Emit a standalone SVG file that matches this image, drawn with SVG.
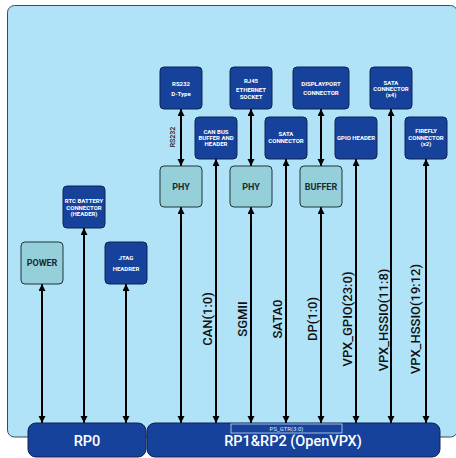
<svg xmlns="http://www.w3.org/2000/svg" width="456" height="458" viewBox="0 0 456 458">
<style>
.bg{fill:#b0e2f8;stroke:#3c4a52;stroke-width:1}
.db{fill:#17429c;stroke:#0d2450;stroke-width:1}
.lt{fill:#95d0da;stroke:#1f3438;stroke-width:1}
.rp{fill:#17429c;stroke:#0d2450;stroke-width:1}
.t{font-family:Roboto,"Liberation Sans",sans-serif;font-weight:700;font-size:6px;fill:#ffffff;text-anchor:middle}
.tl{font-family:Roboto,"Liberation Sans",sans-serif;font-weight:700;font-size:9px;fill:#1d2a2e;text-anchor:middle}
.sig{font-family:Roboto,"Liberation Sans",sans-serif;font-weight:500;font-size:13px;fill:#111111;text-anchor:middle}
.rpt{font-family:Roboto,"Liberation Sans",sans-serif;font-weight:500;font-size:14.5px;fill:#ffffff;text-anchor:middle}
.ln{stroke:#000000;stroke-width:2;fill:none;marker-start:url(#ah);marker-end:url(#ah)}
</style>
<defs>
<marker id="ah" markerUnits="userSpaceOnUse" markerWidth="8" markerHeight="8" refX="7" refY="3.5" orient="auto-start-reverse">
<path d="M0,0 L7,3.5 L0,7 z" fill="#000000"/>
</marker>
</defs>
<rect class="bg" x="7.5" y="5.5" width="450" height="431.5" rx="7"/>

<g id="connectors">
<line class="ln" x1="42" y1="284" x2="42" y2="423"/>
<line class="ln" x1="84" y1="228" x2="84" y2="423"/>
<line class="ln" x1="126" y1="284" x2="126" y2="423"/>
<line class="ln" x1="181" y1="207" x2="181" y2="423"/>
<line class="ln" x1="216" y1="159" x2="216" y2="423"/>
<line class="ln" x1="251" y1="207" x2="251" y2="423"/>
<line class="ln" x1="286" y1="159" x2="286" y2="423"/>
<line class="ln" x1="321" y1="207" x2="321" y2="423"/>
<line class="ln" x1="356" y1="159" x2="356" y2="423"/>
<line class="ln" x1="391" y1="109" x2="391" y2="423"/>
<line class="ln" x1="426" y1="159" x2="426" y2="423"/>
<line class="ln" x1="181" y1="109" x2="181" y2="166"/>
<line class="ln" x1="251" y1="109" x2="251" y2="166"/>
<line class="ln" x1="321" y1="109" x2="321" y2="166"/>
<text x="0" y="0" transform="translate(174.5,137) rotate(-90)" font-family="Roboto,'Liberation Sans',sans-serif" font-weight="500" font-size="7" fill="#222222" text-anchor="middle">RS232</text>
<text class="sig" transform="translate(212,319) rotate(-90)">CAN(1:0)</text>
<text class="sig" transform="translate(246.5,319) rotate(-90)">SGMII</text>
<text class="sig" transform="translate(281.5,319) rotate(-90)">SATA0</text>
<text class="sig" transform="translate(316.5,319) rotate(-90)">DP(1:0)</text>
<text class="sig" transform="translate(351.5,319) rotate(-90)">VPX_GPIO(23:0)</text>
<text class="sig" transform="translate(387.5,320) rotate(-90)">VPX_HSSIO(11:8)</text>
<text class="sig" transform="translate(419.5,319) rotate(-90)">VPX_HSSIO(19:12)</text>
</g>

<g id="rs232">
<rect class="db" x="160" y="67" width="42" height="42" rx="4"/>
<text class="t" x="181" y="86">RS232</text>
<text class="t" x="181" y="96">D-Type</text>
</g>
<g id="rj45">
<rect class="db" x="230" y="67" width="42" height="42" rx="4"/>
<text class="t" x="251" y="83">RJ45</text>
<text class="t" x="251" y="92">ETHERNET</text>
<text class="t" x="251" y="99">SOCKET</text>
</g>
<g id="displayport">
<rect class="db" x="293" y="67" width="56" height="42" rx="4"/>
<text class="t" x="321" y="86">DISPLAYPORT</text>
<text class="t" x="321" y="95">CONNECTOR</text>
</g>
<g id="satax4">
<rect class="db" x="370" y="67" width="42" height="42" rx="4"/>
<text class="t" x="391" y="85">SATA</text>
<text class="t" x="391" y="91">CONNECTOR</text>
<text class="t" x="391" y="97">(x4)</text>
</g>
<g id="canbus">
<rect class="db" x="195" y="117" width="42" height="42" rx="4"/>
<text class="t" x="216" y="134">CAN BUS</text>
<text class="t" x="216" y="140">BUFFER AND</text>
<text class="t" x="216" y="145.5">HEADER</text>
</g>
<g id="sataconn">
<rect class="db" x="265" y="117" width="42" height="42" rx="4"/>
<text class="t" x="286" y="136">SATA</text>
<text class="t" x="286" y="143">CONNECTOR</text>
</g>
<g id="gpio">
<rect class="db" x="335" y="117" width="42" height="42" rx="4"/>
<text class="t" x="356" y="140">GPIO HEADER</text>
</g>
<g id="firefly">
<rect class="db" x="405" y="117" width="42" height="42" rx="4"/>
<text class="t" x="426" y="133">FIREFLY</text>
<text class="t" x="426" y="140">CONNECTOR</text>
<text class="t" x="426" y="146">(x2)</text>
</g>
<g id="phy1">
<rect class="lt" x="160" y="166" width="42" height="41" rx="4"/>
<text class="tl" x="181" y="190">PHY</text>
</g>
<g id="phy2">
<rect class="lt" x="230" y="166" width="42" height="41" rx="4"/>
<text class="tl" x="251" y="190">PHY</text>
</g>
<g id="buffer">
<rect class="lt" x="300" y="166" width="42" height="41" rx="4"/>
<text class="tl" x="321" y="190">BUFFER</text>
</g>
<g id="rtc">
<rect class="db" x="63" y="186" width="42" height="42" rx="4"/>
<text class="t" x="84" y="203">RTC BATTERY</text>
<text class="t" x="84" y="210">CONNECTOR</text>
<text class="t" x="84" y="216">(HEADER)</text>
</g>
<g id="power">
<rect class="lt" x="21" y="242" width="42" height="42" rx="4"/>
<text class="tl" x="42" y="266">POWER</text>
</g>
<g id="jtag">
<rect class="db" x="105" y="242" width="42" height="42" rx="4"/>
<text class="t" x="126" y="260">JTAG</text>
<text class="t" x="126" y="271">HEADRER</text>
</g>
<g id="rp0">
<rect class="rp" x="28" y="423" width="118" height="34" rx="8"/>
<text class="rpt" x="87" y="446">RP0</text>
</g>
<g id="rp12">
<rect class="rp" x="147" y="423" width="293" height="34" rx="8"/>
<rect x="231" y="424" width="111" height="9" fill="#17429c" stroke="#c8daf0" stroke-width="0.8"/>
<text x="286.5" y="431" font-family="Roboto,'Liberation Sans',sans-serif" font-size="6" fill="#d8e6f6" text-anchor="middle">PS_GTR(3:0)</text>
<text class="rpt" x="293" y="446">RP1&amp;RP2 (OpenVPX)</text>
</g>
</svg>
